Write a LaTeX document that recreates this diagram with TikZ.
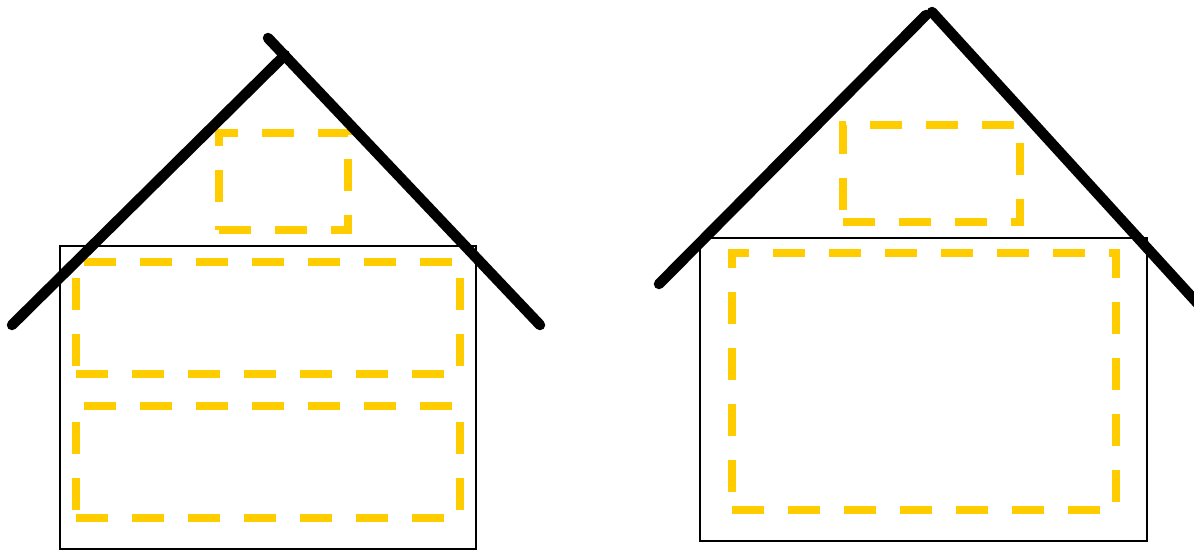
\documentclass[tikz,border=0pt]{standalone}
\definecolor{dashyellow}{HTML}{FFCC00}
\tikzset{
  roof/.style={line width=10.5pt, line cap=round, black},
  wall/.style={line width=1.8pt, black},
  room/.style={line width=8pt, dashyellow, dash pattern=on 32pt off 24pt},
}
\begin{document}
\begin{tikzpicture}[x=1pt,y=-1pt]
\useasboundingbox (0,0) rectangle (1194,550);
% left house
\draw[wall] (60,246) rectangle (476,549);
\draw[room] (219,230) -- (348,230) -- (348,133) -- (219,133) -- cycle;
\draw[room] (76,374) -- (460,374) -- (460,262) -- (76,262) -- cycle;
\draw[room] (76,518) -- (460,518) -- (460,406) -- (76,406) -- cycle;
\coordinate (la) at (12,325);
\coordinate (lb) at (285,55);
\coordinate (lc) at (268,38);
\coordinate (ld) at (540,325);
\draw[roof] (la) -- (lb);
\draw[roof] (lc) -- (ld);
% right house
\draw[wall] (700,238) rectangle (1147,541);
\draw[room] (843,222) -- (1020,222) -- (1020,125) -- (843,125) -- cycle;
\draw[room] (732,510) -- (1116,510) -- (1116,253) -- (732,253) -- cycle;
\coordinate (ra) at (659,284);
\coordinate (rb) at (926,15);
\coordinate (rc) at (932,12);
\coordinate (rd) at (1200,306);
\draw[roof] (ra) -- (rb);
\draw[roof] (rc) -- (rd);
\end{tikzpicture}
\end{document}
